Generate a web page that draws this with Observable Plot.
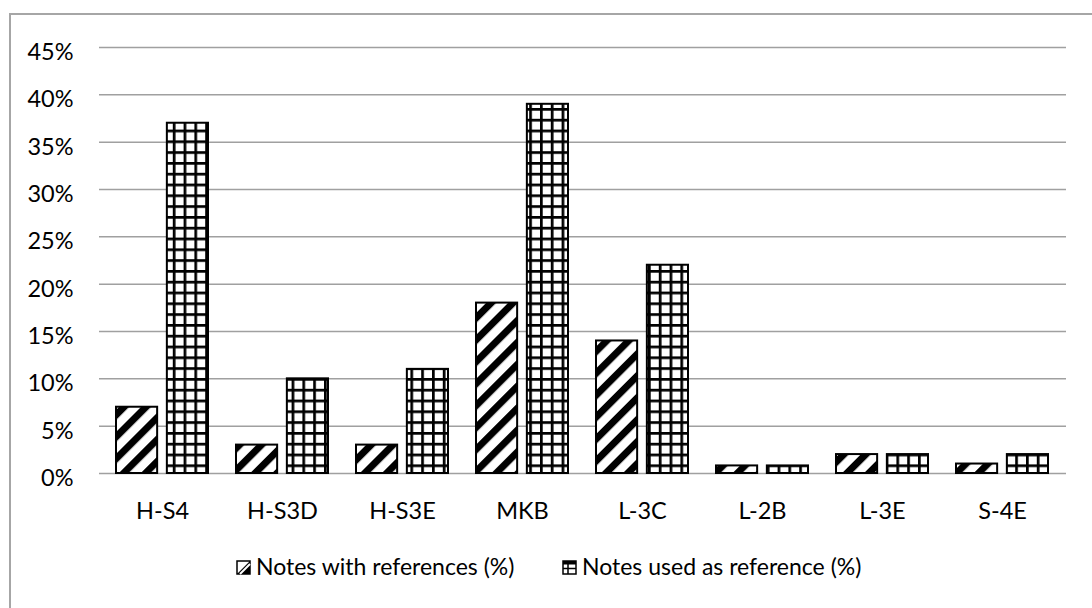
<!DOCTYPE html>
<html><head><meta charset="utf-8">
<script src="https://cdn.jsdelivr.net/npm/d3@7"></script>
<script src="https://cdn.jsdelivr.net/npm/@observablehq/plot@0.6"></script>
<style>
html,body{margin:0;padding:0;background:#fff;overflow:hidden;width:1092px;height:608px}
#frame{position:absolute;left:9px;top:13px;width:1200px;height:700px;border:2px solid #a6a6a6;box-sizing:border-box;pointer-events:none}
#chart{position:relative;width:1092px}
#legend{position:relative;width:1092px;height:78px;font-family:Lato,sans-serif;font-size:23px;color:#000}
.item{position:absolute;white-space:nowrap;line-height:23px}
.sw{position:absolute}
</style></head><body>
<svg width="0" height="0" style="position:absolute">
<defs>
<pattern id="hatch" patternUnits="userSpaceOnUse" width="15.5" height="15.5" patternTransform="rotate(45)">
<rect width="15.5" height="15.5" fill="#fff"/><rect width="7" height="15.5" fill="#000"/>
</pattern>
<pattern id="grid" patternUnits="userSpaceOnUse" width="10.8" height="10.8">
<rect width="10.8" height="10.8" fill="#fff"/><rect width="2.7" height="10.8" fill="#000"/><rect width="10.8" height="2.7" fill="#000"/>
</pattern>
</defs></svg>
<div id="frame"></div>
<div id="chart"></div>
<div id="legend"></div>
<script>
const categories = ["H-S4","H-S3D","H-S3E","MKB","L-3C","L-2B","L-3E","S-4E"];
const withRefs   = [7, 3, 3, 18, 14, 0.8, 2, 1];
const usedAsRef  = [37, 10, 11, 39, 22, 0.8, 2, 2];
const seriesNames = ["Notes with references (%)", "Notes used as reference (%)"];
const yTicks = [0, 5, 10, 15, 20, 25, 30, 35, 40, 45];

const rowsA = categories.map((c, i) => ({category: c, series: seriesNames[0], value: withRefs[i]}));
const rowsB = categories.map((c, i) => ({category: c, series: seriesNames[1], value: usedAsRef[i]}));

const W = 1092, H = 530, mL = 99, mR = 26, mT = 47, mB = 57;
const pInner = 0.233, pOuter = pInner / 2;
const step = (W - mL - mR) / (categories.length - pInner + 2 * pOuter);
const bw = step * (1 - pInner);
const gap = 9;
const barW = (bw - gap) / 2;
const FS = 23.5;

const chart = Plot.plot({
  width: W, height: H,
  marginLeft: mL, marginRight: mR, marginTop: mT, marginBottom: mB,
  style: {fontFamily: "Lato, sans-serif", fontSize: FS + "px", color: "#000", background: "transparent"},
  x: {domain: categories, paddingInner: pInner, paddingOuter: pOuter, label: null},
  y: {domain: [0, 45], label: null},
  marks: [
    Plot.ruleY(yTicks, {stroke: "#a0a0a0", strokeWidth: 1.5}),
    Plot.barY(rowsA, {x: "category", y: "value", fill: "url(#hatch)", stroke: "#000", strokeWidth: 2, insetRight: bw - barW}),
    Plot.barY(rowsB, {x: "category", y: "value", fill: "url(#grid)", stroke: "#000", strokeWidth: 2, insetLeft: bw - barW}),
    Plot.axisY({ticks: yTicks, tickSize: 0, tickPadding: 26, tickFormat: d => d + "%", dy: 5, fontSize: FS, label: null}),
    Plot.axisX({tickSize: 0, tickPadding: 29, fontSize: FS, label: null})
  ]
});
document.getElementById("chart").appendChild(chart);

// legend
const legend = d3.select("#legend");
const items = [
  {name: seriesNames[0], sw: 236, tx: 256, kind: "hatch"},
  {name: seriesNames[1], sw: 562, tx: 582, kind: "grid"}
];
for (const it of items) {
  const s = legend.append("svg").attr("class", "sw")
    .attr("width", 16).attr("height", 16)
    .style("left", it.sw + "px").style("top", (560 - 530) + "px");
  if (it.kind === "hatch") {
    s.append("rect").attr("x", 1).attr("y", 1).attr("width", 13).attr("height", 13).attr("fill", "#fff").attr("stroke", "#000").attr("stroke-width", 1.5);
    s.append("path").attr("d", "M14,1 L14,14 L1,14 Z").attr("fill", "#000");
    s.append("path").attr("d", "M4,14 L14,4").attr("stroke", "#fff").attr("stroke-width", 2);
  } else {
    s.append("rect").attr("x", 1).attr("y", 1).attr("width", 13).attr("height", 13).attr("fill", "#fff").attr("stroke", "#000").attr("stroke-width", 1.5);
    s.append("rect").attr("x", 1).attr("y", 1).attr("width", 13).attr("height", 3.5).attr("fill", "#000");
    s.append("path").attr("d", "M6,1 V14 M1,8.5 H14").attr("stroke", "#000").attr("stroke-width", 1.5);
  }
  legend.append("div").attr("class", "item")
    .style("left", it.tx + "px").style("top", (555 - 530) + "px")
    .text(it.name);
}
</script>
</body></html>
